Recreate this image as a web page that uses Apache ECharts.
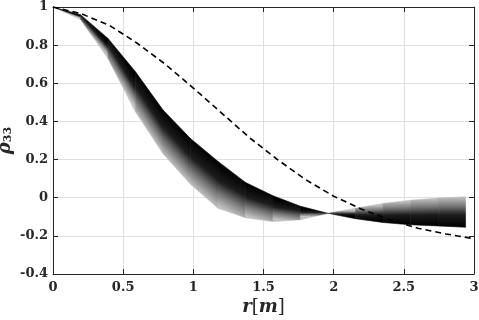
<!DOCTYPE html>
<html>
<head>
<meta charset="utf-8">
<script src="https://cdn.jsdelivr.net/npm/echarts@6/dist/echarts.min.js"></script>
<style>html,body{margin:0;padding:0;background:#fff;}#c{width:479px;height:320px;}</style>
</head>
<body>
<div id="c"></div>
<script>
// radial positions of the family of curves
var rX = [0, 0.196, 0.392, 0.588, 0.784, 0.98, 1.176, 1.372, 1.568, 1.764, 1.96, 2.156, 2.352, 2.548, 2.744, 2.94];
// darkest curve of the family
var rhoDark = [1, 0.96, 0.835, 0.66, 0.46, 0.31, 0.19, 0.08, 0.01, -0.045, -0.082, -0.11, -0.13, -0.142, -0.148, -0.155];
// lightest curve of the family
var rhoLight = [1, 0.935, 0.73, 0.45, 0.23, 0.07, -0.055, -0.105, -0.125, -0.115, -0.082, -0.055, -0.03, -0.013, -0.002, 0.005];
// dashed reference curve
var dashX = [0, 0.2, 0.4, 0.6, 0.8, 1.0, 1.2, 1.4, 1.6, 1.8, 2.0, 2.2, 2.4, 2.6, 2.8, 3.0];
var dashY = [1.0, 0.965, 0.905, 0.81, 0.70, 0.575, 0.445, 0.315, 0.20, 0.095, 0.008, -0.06, -0.115, -0.16, -0.19, -0.215];
var xTicks = ['0', '0.5', '1', '1.5', '2', '2.5', '3'];
var yTicks = ['-0.4', '-0.2', '0', '0.2', '0.4', '0.6', '0.8', '1'];

var bandData = [];
for (var k = 0; k < rX.length - 1; k++) {
  bandData.push([rX[k], rhoLight[k], rhoDark[k], rX[k + 1], rhoLight[k + 1], rhoDark[k + 1]]);
}
var dashData = dashX.map(function (x, i) { return [x, dashY[i]]; });

var axisCol = '#262626';
var font = 'DejaVu Serif';
function makeStops() {
  return [
    {offset: 0, color: '#c0c0c0'},
    {offset: 0.3, color: '#767676'},
    {offset: 0.6, color: '#1c1c1c'},
    {offset: 1, color: '#000000'}
  ];
}

function fmt(list, min, step) {
  return function (v) {
    var i = Math.round((v - min) / step);
    return list[i] !== undefined ? list[i] : '';
  };
}

var chart = echarts.init(document.getElementById('c'));
chart.setOption({
  animation: false,
  backgroundColor: '#fff',
  grid: {left: 53, right: 5, top: 7, bottom: 46, containLabel: false, outerBoundsMode: 'none'},
  xAxis: [{
    type: 'value', min: 0, max: 3, interval: 0.5,
    axisLine: {onZero: false, lineStyle: {color: axisCol, width: 1}},
    axisTick: {inside: true, length: 5, lineStyle: {color: axisCol}},
    axisLabel: {color: axisCol, fontFamily: font, fontWeight: 'bold', fontSize: 13, margin: 7, formatter: fmt(xTicks, 0, 0.5)},
    splitLine: {show: true, lineStyle: {color: '#e0e0e0', width: 1}},
    name: '{i|r}{n|[}{i|m}{n|]}', nameLocation: 'middle', nameGap: 24, nameMoveOverlap: false,
    nameTextStyle: {rich: {
      i: {fontFamily: font, fontStyle: 'italic', fontWeight: 'bold', fontSize: 18, color: axisCol},
      n: {fontFamily: font, fontSize: 18, color: axisCol}
    }}
  }, {
    type: 'value', min: 0, max: 3, interval: 0.5, position: 'top',
    axisLine: {onZero: false, lineStyle: {color: axisCol, width: 1}},
    axisTick: {inside: true, length: 5, lineStyle: {color: axisCol}},
    axisLabel: {show: false}, splitLine: {show: false}
  }],
  yAxis: [{
    type: 'value', min: -0.4, max: 1, interval: 0.2,
    axisLine: {show: true, onZero: false, lineStyle: {color: axisCol, width: 1}},
    axisTick: {show: true, inside: true, length: 5, lineStyle: {color: axisCol}},
    axisLabel: {color: axisCol, fontFamily: font, fontWeight: 'bold', fontSize: 13, margin: 5, formatter: fmt(yTicks, -0.4, 0.2)},
    splitLine: {show: true, lineStyle: {color: '#e0e0e0', width: 1}},
    name: '{i|ρ}{s|33}', nameLocation: 'middle', nameGap: 39, nameRotate: 90, nameMoveOverlap: false,
    nameTextStyle: {rich: {
      i: {fontFamily: font, fontStyle: 'italic', fontWeight: 'bold', fontSize: 18, color: axisCol},
      s: {fontFamily: font, fontWeight: 'bold', fontSize: 11, color: axisCol, verticalAlign: 'bottom', padding: [6, 0, 0, 0]}
    }}
  }, {
    type: 'value', min: -0.4, max: 1, interval: 0.2, position: 'right',
    axisLine: {show: true, onZero: false, lineStyle: {color: axisCol, width: 1}},
    axisTick: {show: true, inside: true, length: 5, lineStyle: {color: axisCol}},
    axisLabel: {show: false}, splitLine: {show: false}
  }],
  series: [{
    type: 'custom',
    xAxisIndex: 0, yAxisIndex: 0,
    data: bandData,
    encode: {x: [0, 3], y: [1, 2, 4, 5]},
    z: 2,
    renderItem: function (params, api) {
      var a = api.coord([api.value(0), api.value(1)]);
      var b = api.coord([api.value(3), api.value(4)]);
      var c = api.coord([api.value(3), api.value(5)]);
      var d = api.coord([api.value(0), api.value(2)]);
      var pts = [a, b, c, d];
      var minX = Math.min(a[0], b[0], c[0], d[0]), maxX = Math.max(a[0], b[0], c[0], d[0]);
      var minY = Math.min(a[1], b[1], c[1], d[1]), maxY = Math.max(a[1], b[1], c[1], d[1]);
      var w = Math.max(maxX - minX, 1e-6), h = Math.max(maxY - minY, 1e-6);
      var mL = [(a[0] + b[0]) / 2, (a[1] + b[1]) / 2];
      var mD = [(c[0] + d[0]) / 2, (c[1] + d[1]) / 2];
      var sx = b[0] - a[0] + c[0] - d[0], sy = b[1] - a[1] + c[1] - d[1];
      var sl = Math.hypot(sx, sy) || 1;
      var nx = -sy / sl, ny = sx / sl;
      var dv = (mD[0] - mL[0]) * nx + (mD[1] - mL[1]) * ny;
      if (dv < 0) { nx = -nx; ny = -ny; dv = -dv; }
      var fill;
      if (dv < 0.8) {
        fill = '#444';
      } else {
        var p1 = [mL[0], mL[1]];
        var p2 = [mL[0] + nx * dv, mL[1] + ny * dv];
        fill = new echarts.graphic.LinearGradient(
          (p1[0] - minX) / w, (p1[1] - minY) / h,
          (p2[0] - minX) / w, (p2[1] - minY) / h, makeStops(), false);
      }
      return {
        type: 'polygon',
        shape: {points: pts},
        style: {fill: fill, stroke: fill, lineWidth: 0.6}
      };
    }
  }, {
    type: 'line',
    xAxisIndex: 0, yAxisIndex: 0,
    data: dashData,
    showSymbol: false,
    z: 3,
    lineStyle: {color: '#000', width: 1.6, type: [6, 4]}
  }]
});
</script>
</body>
</html>
